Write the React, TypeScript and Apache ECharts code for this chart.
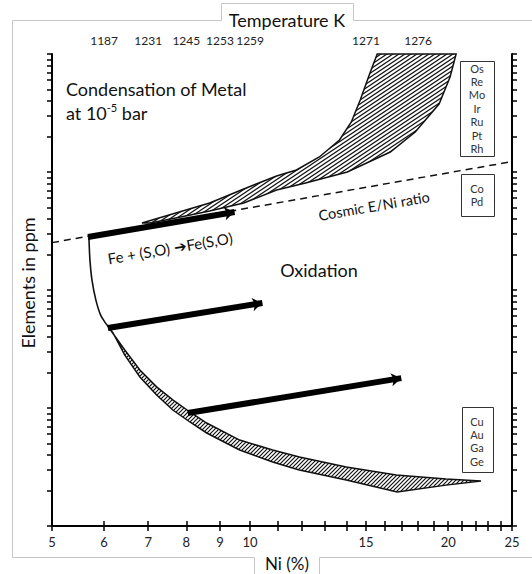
import React, { useEffect, useRef } from 'react';
import * as echarts from 'echarts';

// ---- axes ----
const NI_MIN = 5;
const NI_MAX = 25;
const NI_TICKS = [5, 6, 7, 8, 9, 10, 11, 12, 13, 14, 15, 16, 17, 18, 19, 20, 21, 22, 23, 24, 25];
const NI_LABELS = [5, 6, 7, 8, 9, 10, 15, 20, 25];
const TEMP_NI = [6, 7, 8, 9, 10, 15, 18];
const TEMP_LABELS = ['1187', '1231', '1245', '1253', '1259', '1271', '1276'];
const PPM_MIN = 1;
const PPM_MAX = 10000;
const PPM_DECADES = [1, 10, 100, 1000];
const PPM_STEPS = [1, 2, 3, 4, 5, 6, 7, 8, 9];

// ---- data: [Ni %, ppm] ----
const cosmicRatio = [[5, 252], [25, 1225]];
const feCurve = [[5.69, 276], [5.71, 179], [5.75, 122], [5.83, 82], [5.93, 61], [6.06, 50.5]];
const metalUpper = [[6.85, 370], [7.71, 449], [8.68, 546], [9.78, 718], [10.97, 925], [11.76, 1040], [12.74, 1340], [13.67, 1867], [14.25, 2653], [14.7, 4074], [15.17, 6637], [15.6, 10000]];
const metalLower = [[7.04, 370], [7.71, 408], [8.68, 467], [9.78, 546], [10.97, 704], [12.14, 807], [14.05, 1000], [16.33, 1477], [17.82, 2183], [19.37, 3768], [20.13, 6383], [20.56, 10000]];
const oxUpper = [[6.06, 50.5], [6.45, 31.0], [6.8, 21.0], [7.21, 15.1], [7.63, 11.7], [8.1, 9.25], [8.59, 7.46], [9.64, 5.35], [10.82, 4.41], [11.88, 3.84], [14.0, 3.16], [16.68, 2.71], [19.85, 2.5], [22.43, 2.41]];
const oxLower = [[6.06, 50.5], [6.19, 43.2], [6.45, 28.1], [6.8, 18.3], [7.21, 12.9], [7.63, 9.61], [8.1, 7.61], [8.59, 6.14], [9.64, 4.41], [10.82, 3.49], [11.88, 2.98], [14.0, 2.45], [16.73, 1.94], [19.85, 2.22], [22.43, 2.41]];
const arrows = [
  [[5.67, 281], [9.47, 458]],
  [[6.08, 47.6], [10.44, 77.6]],
  [[8.04, 9.07], [16.97, 17.9]],
];
const box1 = ['Os', 'Re', 'Mo', 'Ir', 'Ru', 'Pt', 'Rh'];
const box2 = ['Co', 'Pd'];
const box3 = ['Cu', 'Au', 'Ga', 'Ge'];

const L = Math.log10;
const tr = (p: number[]) => [L(p[0]), L(p[1])];
const FONT = 'Lato, "Open Sans", "Liberation Sans", sans-serif';

function makeHatch(w: number, h: number, lw: number) {
  const c = document.createElement('canvas');
  c.width = w;
  c.height = h;
  const ctx = c.getContext('2d')!;
  ctx.fillStyle = '#fff';
  ctx.fillRect(0, 0, w, h);
  ctx.strokeStyle = '#111';
  ctx.lineWidth = lw;
  ctx.beginPath();
  ctx.moveTo(-w, 2 * h); ctx.lineTo(2 * w, -h);
  ctx.moveTo(-2 * w, 2 * h); ctx.lineTo(w, -h);
  ctx.moveTo(0, 2 * h); ctx.lineTo(3 * w, -h);
  ctx.stroke();
  return { image: c, repeat: 'repeat', imageWidth: w, imageHeight: h };
}

export default function App() {
  const ref = useRef<HTMLDivElement>(null);
  useEffect(() => {
    if (!ref.current) return;
    const chart = echarts.init(ref.current, null, { renderer: 'svg' });
    const ppmTicks: number[] = [];
    PPM_DECADES.forEach((d) => PPM_STEPS.forEach((s) => ppmTicks.push(L(d * s))));
    ppmTicks.push(L(PPM_MAX));
    const niTickVals = NI_TICKS.map(L);
    const hatchA = makeHatch(6, 4, 1.2);
    const hatchB = makeHatch(4, 4, 1.2);
    const bands = [
      { pts: [...metalUpper, ...metalLower.slice().reverse()], fill: hatchA },
      { pts: [...oxUpper, ...oxLower.slice().reverse()], fill: hatchB },
    ];
    const axisLine = { show: true, lineStyle: { color: '#000', width: 2 } };
    const tick = { show: true, length: 5, lineStyle: { color: '#000', width: 1.5 } };
    const boxTexts = (x: number, y0: number, items: string[]) =>
      items.map((t, i) => ({
        type: 'text', x, y: y0 + i * 13.4,
        style: { text: t, font: `11px ${FONT}`, fill: '#333', align: 'center', verticalAlign: 'middle', textAlign: 'center', textVerticalAlign: 'middle' },
      }));
    const rect = (x: number, y: number, w: number, h: number) => ({
      type: 'rect', shape: { x: x + 0.5, y: y + 0.5, width: w, height: h },
      style: { fill: '#fff', stroke: '#333', lineWidth: 1 },
    });
    const gray = { stroke: '#c6c6c6', lineWidth: 1, fill: null };
    const txt = (text: string, x: number, y: number, size: number, rot = 0, align = 'center') => ({
      type: 'text', x, y, rotation: rot,
      style: { text, font: `${size}px ${FONT}`, fill: '#111', align, verticalAlign: 'middle', textAlign: align, textVerticalAlign: 'middle' },
    });

    chart.setOption({
      animation: false,
      grid: { left: 52, top: 54, right: 20, bottom: 48, containLabel: false, outerBoundsMode: 'none' },
      xAxis: [
        {
          type: 'value', position: 'bottom', min: L(NI_MIN), max: L(NI_MAX),
          axisLine, axisTick: { ...tick, customValues: niTickVals },
          axisLabel: { customValues: NI_LABELS.map(L), formatter: (v: number) => String(Math.round(Math.pow(10, v))), color: '#222', fontSize: 13, fontFamily: FONT, margin: 9 },
          splitLine: { show: false },
        },
        {
          type: 'value', position: 'top', min: L(NI_MIN), max: L(NI_MAX),
          axisLine, axisTick: { ...tick, customValues: niTickVals },
          axisLabel: {
            customValues: TEMP_NI.map(L),
            formatter: (v: number) => {
              const i = TEMP_NI.findIndex((n) => Math.abs(L(n) - v) < 1e-6);
              return i >= 0 ? TEMP_LABELS[i] : '';
            },
            color: '#222', fontSize: 12, fontFamily: FONT, margin: 8, hideOverlap: false,
          },
          splitLine: { show: false },
        },
      ],
      yAxis: [
        {
          type: 'value', position: 'left', min: L(PPM_MIN), max: L(PPM_MAX),
          axisLine, axisTick: { ...tick, customValues: ppmTicks }, axisLabel: { show: false }, splitLine: { show: false },
        },
        {
          type: 'value', position: 'right', min: L(PPM_MIN), max: L(PPM_MAX),
          axisLine, axisTick: { ...tick, customValues: ppmTicks }, axisLabel: { show: false }, splitLine: { show: false },
        },
      ],
      series: [
        {
          type: 'custom', silent: true, coordinateSystem: 'cartesian2d',
          data: [[1, 1], [1, 1]],
          renderItem: (params: any, api: any) => {
            const b = bands[params.dataIndex];
            const points = b.pts.map((p) => api.coord(tr(p)));
            return { type: 'polygon', shape: { points }, style: { fill: b.fill, stroke: '#111', lineWidth: 1.5 } };
          },
          z: 2,
        },
        {
          type: 'line', silent: true, data: cosmicRatio.map(tr), showSymbol: false,
          lineStyle: { color: '#111', width: 1.5, type: [7, 5] }, z: 3,
        },
        {
          type: 'line', silent: true, data: feCurve.map(tr), showSymbol: false, smooth: 0.3,
          lineStyle: { color: '#111', width: 1.6 }, z: 3,
        },
        {
          type: 'lines', coordinateSystem: 'cartesian2d', silent: true,
          data: arrows.map((a) => ({ coords: a.map(tr) })),
          symbol: ['none', 'arrow'], symbolSize: 10,
          lineStyle: { color: '#000', width: 6, opacity: 1, curveness: 0 }, z: 4,
        },
      ],
      graphic: [
        { type: 'polyline', shape: { points: [[221.5, 20.5], [12.5, 20.5], [12.5, 557.5], [254.5, 557.5], [254.5, 574]] }, style: gray },
        { type: 'polyline', shape: { points: [[221.5, 20.5], [221.5, 3.5], [353.5, 3.5], [353.5, 20.5], [532, 20.5]] }, style: gray },
        { type: 'polyline', shape: { points: [[319.5, 574], [319.5, 557.5], [532, 557.5]] }, style: gray },
        txt('Temperature K', 287, 20, 18),
        txt('Ni (%)', 287, 563, 17),
        txt('Elements in ppm', 28, 283, 18, Math.PI / 2),
        txt('Condensation of Metal', 66, 89, 18, 0, 'left'),
        {
          type: 'text', x: 66, y: 112,
          style: {
            text: '{a|at 10}{s|-5}{a| bar}', font: `18px ${FONT}`, fill: '#111', align: 'left', verticalAlign: 'middle', textAlign: 'left', textVerticalAlign: 'middle',
            rich: { a: { fontSize: 18, fontFamily: FONT, fill: '#111', lineHeight: 20, verticalAlign: 'bottom' }, s: { fontSize: 11, fontFamily: FONT, fill: '#111', lineHeight: 20, verticalAlign: 'top' } },
          },
        },
        txt('Fe + (S,O) \u2794Fe(S,O)', 170, 248, 15, 0.17),
        txt('Cosmic E/Ni ratio', 374, 206, 14.5, 0.17),
        txt('Oxidation', 319, 270, 18),
        rect(460, 61, 34, 95),
        ...boxTexts(477, 68, box1),
        rect(461, 174, 33, 42),
        ...boxTexts(477, 188, box2),
        rect(462, 407, 31, 65),
        ...boxTexts(477, 421, box3),
      ],
    });
    return () => chart.dispose();
  }, []);
  return <div ref={ref} style={{ width: 532, height: 574, position: 'absolute', left: 0, top: 0, background: '#fff' }} />;
}
